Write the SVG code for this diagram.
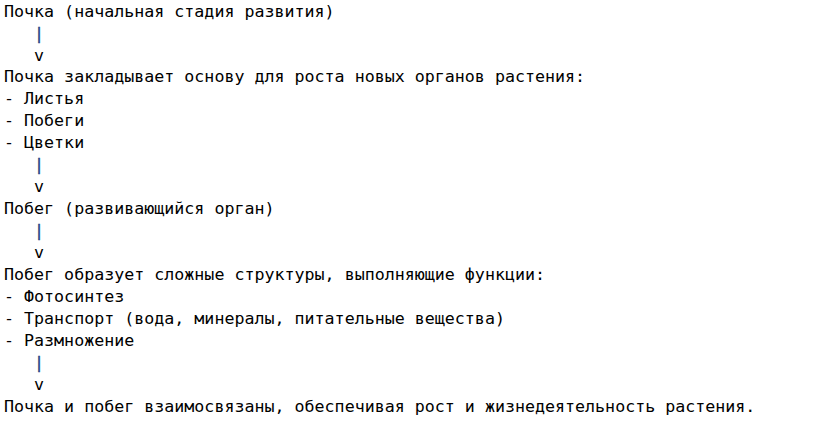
<svg xmlns="http://www.w3.org/2000/svg" width="830" height="432" viewBox="0 0 830 432">
<style>
text{font-family:"DejaVu Sans Mono","Liberation Mono",monospace;font-size:16.65px;fill:#000;white-space:pre}
.pipe{fill:#1f4285;stroke:#1f4285;stroke-width:0.4px}
</style>
<rect width="830" height="432" fill="#fff"/>
<g id="node-bud">
<text x="4" y="17">Почка (начальная стадия развития)</text>
</g>
<g id="node-bud-organs">
<text x="4" y="82">Почка закладывает основу для роста новых органов растения:</text>
<text x="4" y="104">- Листья</text>
<text x="4" y="126">- Побеги</text>
<text x="4" y="148">- Цветки</text>
</g>
<g id="node-shoot">
<text x="4" y="214">Побег (развивающийся орган)</text>
</g>
<g id="node-shoot-functions">
<text x="4" y="280">Побег образует сложные структуры, выполняющие функции:</text>
<text x="4" y="302">- Фотосинтез</text>
<text x="4" y="324">- Транспорт (вода, минералы, питательные вещества)</text>
<text x="4" y="346">- Размножение</text>
</g>
<g id="node-conclusion">
<text x="4" y="412">Почка и побег взаимосвязаны, обеспечивая рост и жизнедеятельность растения.</text>
</g>
<g id="connectors">
<text class="pipe" x="34" y="39">|</text>
<text x="34" y="61">v</text>
<text class="pipe" x="34" y="170">|</text>
<text x="34" y="192">v</text>
<text class="pipe" x="34" y="236">|</text>
<text x="34" y="258">v</text>
<text class="pipe" x="34" y="368">|</text>
<text x="34" y="390">v</text>
</g>
</svg>
